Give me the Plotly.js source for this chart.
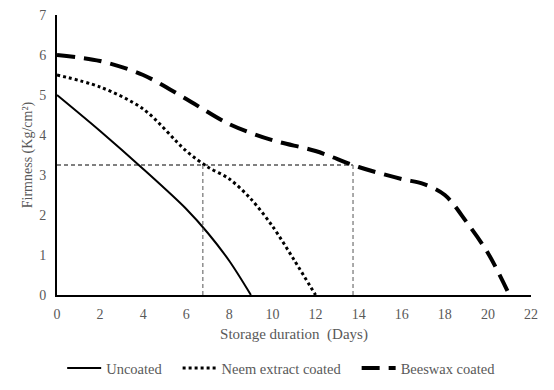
<!DOCTYPE html>
<html>
<head>
<meta charset="utf-8">
<script src="https://cdn.plot.ly/plotly-3.0.1.min.js"></script>
<style>html,body{margin:0;padding:0;background:#fff;}#chart{width:554px;height:390px;}</style>
</head>
<body>
<div id="chart"></div>
<script>
// Days and firmness (Kg/cm²)
const uncoatedDays = [0, 2, 4, 6, 7, 8, 9];
const uncoatedFirm = [5.0, 4.1, 3.15, 2.15, 1.55, 0.85, 0];

const neemDays = [0, 2, 4, 6, 7, 8, 9, 10, 11, 12];
const neemFirm = [5.5, 5.2, 4.65, 3.6, 3.2, 2.9, 2.4, 1.72, 0.88, 0];

const beeswaxDays = [0, 2, 4, 6, 8, 10, 12, 14, 16, 17, 18, 19, 20, 21];
const beeswaxFirm = [6.0, 5.85, 5.5, 4.9, 4.27, 3.87, 3.6, 3.2, 2.9, 2.78, 2.5, 1.83, 1.05, 0];

// Reference (guide) lines
const refFirm = 3.25;
const refDays = [6.77, 13.74];

const seriesNames = ["Uncoated", "Neem extract coated", "Beeswax coated"];
const xTicks = [0, 2, 4, 6, 8, 10, 12, 14, 16, 18, 20, 22];
const yTicks = [0, 1, 2, 3, 4, 5, 6, 7];

const font = "Liberation Serif";
const grey = "#595959";
const pad = "\u00a0\u00a0\u00a0";

const traces = [
  {x: uncoatedDays, y: uncoatedFirm, name: seriesNames[0] + pad, mode: "lines",
   line: {color: "#000", width: 2, shape: "spline", smoothing: 0.9}},
  {x: neemDays, y: neemFirm, name: seriesNames[1] + pad, mode: "lines",
   line: {color: "#000", width: 3, dash: "3px,3px", shape: "spline", smoothing: 0.9}},
  {x: beeswaxDays, y: beeswaxFirm, name: seriesNames[2], mode: "lines",
   line: {color: "#000", width: 4, dash: "18px,9px", shape: "spline", smoothing: 0.9}},
  {x: [0, refDays[1]], y: [refFirm, refFirm], mode: "lines", showlegend: false, hoverinfo: "skip",
   line: {color: "#000", width: 1, dash: "4px,3px"}},
  {x: [refDays[0], refDays[0]], y: [0, refFirm], mode: "lines", showlegend: false, hoverinfo: "skip",
   line: {color: "#555", width: 1, dash: "4px,3px"}},
  {x: [refDays[1], refDays[1]], y: [0, refFirm], mode: "lines", showlegend: false, hoverinfo: "skip",
   line: {color: "#555", width: 1, dash: "4px,3px"}}
];

const layout = {
  width: 554, height: 390,
  margin: {l: 57, r: 23, t: 15, b: 95},
  paper_bgcolor: "#fff", plot_bgcolor: "#fff",
  font: {family: font, color: grey, size: 13},
  showlegend: true,
  legend: {orientation: "h", x: 0.474, xanchor: "center", xref: "paper",
           yref: "container", y: 0.056, yanchor: "middle",
           font: {family: font, size: 14.5, color: grey}, itemwidth: 34, traceorder: "normal"},
  xaxis: {range: [0, 22], tickvals: xTicks, ticktext: xTicks.map(String), showgrid: false, zeroline: false,
          showline: true, linecolor: "#000", linewidth: 2, ticks: "", ticklabelstandoff: 5,
          tickfont: {family: font, size: 14, color: grey},
          title: {text: "Storage duration  (Days)\u00a0\u00a0", font: {family: font, size: 15, color: grey}, standoff: 8}},
  yaxis: {range: [0, 7], tickvals: yTicks, ticktext: yTicks.map(String), showgrid: false, zeroline: false,
          showline: true, linecolor: "#000", linewidth: 2, ticks: "", ticklabelstandoff: 6,
          tickfont: {family: font, size: 14, color: grey},
          title: {text: "Firmness (Kg/cm²)", font: {family: font, size: 14, color: grey}, standoff: 3}}
};

Plotly.newPlot("chart", traces, layout, {displayModeBar: false, staticPlot: true});
</script>
</body>
</html>
